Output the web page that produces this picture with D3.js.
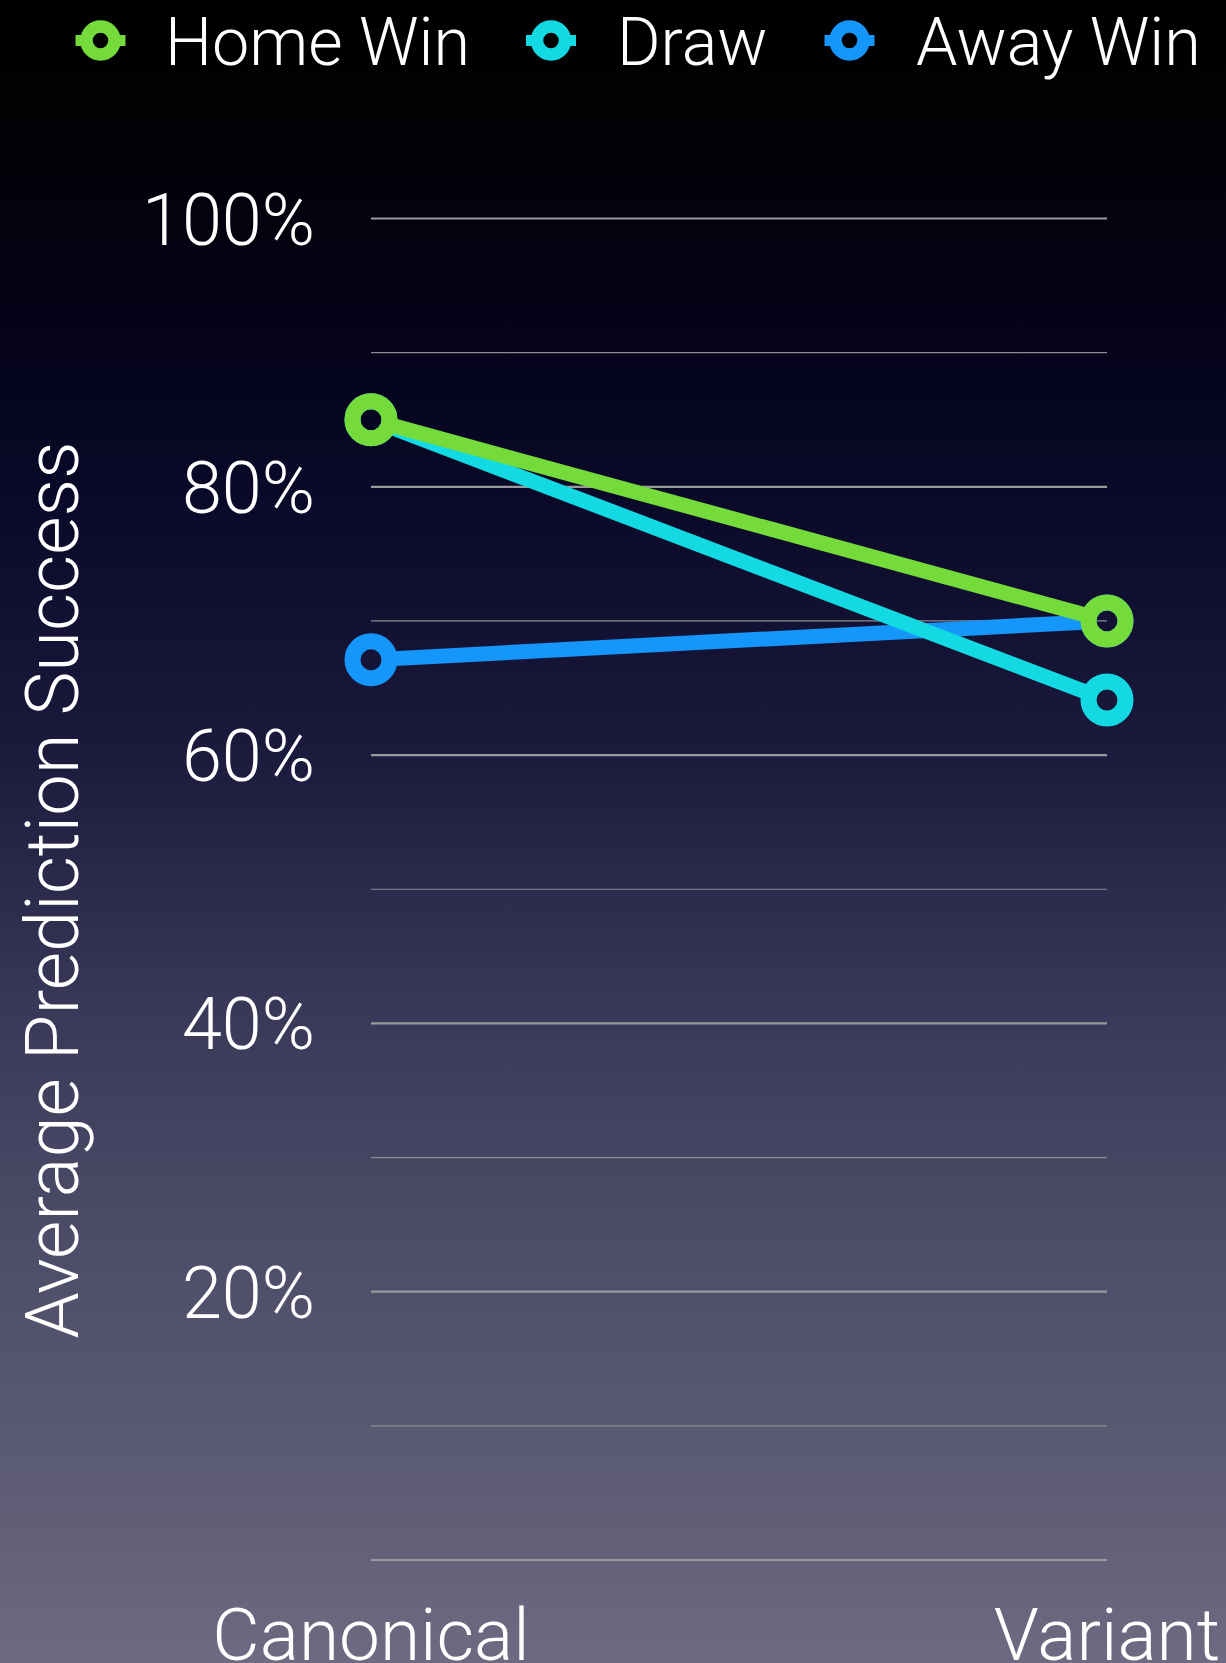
<!DOCTYPE html>
<meta charset="utf-8">
<script src="https://d3js.org/d3.v7.min.js"></script>
<style>
  body { margin: 0; background: #000; }
  text { font-family: "Helvetica Neue", Roboto, "Liberation Sans", sans-serif; font-weight: 300; fill: #fff; }
</style>

<div id="my_dataviz"></div>

<script>

var width = 1226, height = 1663;

// dados
var categories = ["Canonical", "Variant"];
var awayWin = [67.1, 70.0];
var draw = [85.0, 64.1];
var homeWin = [85.0, 70.0];
var legendOrder = ["Home Win", "Draw", "Away Win"];
var yTicks = [0, 10, 20, 30, 40, 50, 60, 70, 80, 90, 100];
var yLabels = [20, 40, 60, 80, 100];

var cores = {
  "Home Win": "#74db3b",
  "Draw": "#13dae2",
  "Away Win": "#1596fb"
};

// ordem de desenho: Home Win fica por cima
var series = [
  {name: "Away Win", values: awayWin},
  {name: "Draw", values: draw},
  {name: "Home Win", values: homeWin}
];

var svg = d3.select("#my_dataviz")
  .append("svg")
  .attr("width", width)
  .attr("height", height)
  .style("display", "block");

// fundo em degradé
var grad = svg.append("defs")
  .append("linearGradient")
  .attr("id", "bg")
  .attr("gradientUnits", "userSpaceOnUse")
  .attr("x1", 0).attr("y1", 0)
  .attr("x2", 0).attr("y2", height);

[
  [0, "#000000"], [0.07, "#020205"], [0.2, "#040319"], [0.3, "#0a0929"],
  [0.45, "#1b1a3d"], [0.6, "#383757"], [0.75, "#4e4d69"], [0.9, "#5e5d75"], [1, "#6c6b81"]
].forEach(function(s) {
  grad.append("stop").attr("offset", s[0]).attr("stop-color", s[1]);
});

svg.append("rect")
  .attr("width", width)
  .attr("height", height)
  .attr("fill", "url(#bg)");

// escalas
var x = d3.scalePoint()
  .domain(categories)
  .range([371, 1107]);

var y = d3.scaleLinear()
  .domain([0, 100])
  .range([1560, 218.5]);

// grelha
svg.append("g")
  .selectAll("line")
  .data(yTicks)
  .join("line")
  .attr("x1", 371)
  .attr("x2", 1107)
  .attr("y1", function(d) { return y(d); })
  .attr("y2", function(d) { return y(d); })
  .attr("stroke", function(d) { return d % 20 == 0 ? "#9a9a9c" : "#8a8a90"; })
  .attr("stroke-width", function(d) { return d % 20 == 0 ? 2.2 : 1.2; });

// etiquetas do eixo y
svg.append("g")
  .selectAll("text")
  .data(yLabels)
  .join("text")
  .attr("x", 315)
  .attr("y", function(d) { return y(d) + 26; })
  .attr("text-anchor", "end")
  .style("font-size", "72px")
  .text(function(d) { return d + "%"; });

// etiquetas do eixo x
svg.append("g")
  .selectAll("text")
  .data(categories)
  .join("text")
  .attr("x", function(d) { return x(d); })
  .attr("y", 1660)
  .attr("text-anchor", "middle")
  .style("font-size", "73px")
  .text(function(d) { return d; });

// título do eixo y
svg.append("text")
  .attr("transform", "translate(78,890) rotate(-90)")
  .attr("text-anchor", "middle")
  .style("font-size", "74px")
  .text("Average Prediction Success");

// linhas e marcadores - as linhas param no anel para o buraco ficar vazio
var raio = 18.5, anel = 16;

series.forEach(function(s) {
  var g = svg.append("g");
  var pts = s.values.map(function(v, i) { return [x(categories[i]), y(v)]; });

  for (var i = 0; i < pts.length - 1; i++) {
    var a = pts[i], b = pts[i + 1];
    var dx = b[0] - a[0], dy = b[1] - a[1];
    var len = Math.sqrt(dx * dx + dy * dy);
    var ux = dx / len, uy = dy / len;
    g.append("line")
      .attr("x1", a[0] + ux * raio)
      .attr("y1", a[1] + uy * raio)
      .attr("x2", b[0] - ux * raio)
      .attr("y2", b[1] - uy * raio)
      .attr("stroke", cores[s.name])
      .attr("stroke-width", 15);
  }

  g.selectAll("circle")
    .data(pts)
    .join("circle")
    .attr("cx", function(d) { return d[0]; })
    .attr("cy", function(d) { return d[1]; })
    .attr("r", raio)
    .attr("fill", "none")
    .attr("stroke", cores[s.name])
    .attr("stroke-width", anel);
});

// legenda
var legX = [100.5, 551, 849.5];
var legTx = [165, 617, 916];

var leg = svg.append("g")
  .selectAll("g")
  .data(legendOrder)
  .join("g")
  .attr("transform", function(d, i) { return "translate(" + legX[i] + ",40.5)"; });

leg.append("line")
  .attr("x1", -25)
  .attr("x2", 25)
  .attr("stroke", function(d) { return cores[d]; })
  .attr("stroke-width", 11);

leg.append("circle")
  .attr("r", 14)
  .attr("fill", "#000")
  .attr("stroke", function(d) { return cores[d]; })
  .attr("stroke-width", 12.5);

leg.append("text")
  .attr("x", function(d, i) { return legTx[i] - legX[i]; })
  .attr("y", 24.5)
  .style("font-size", "66.5px")
  .text(function(d) { return d; });

</script>
